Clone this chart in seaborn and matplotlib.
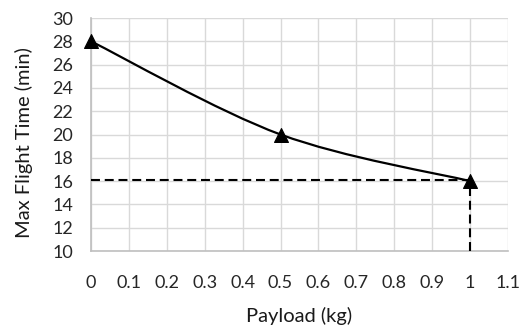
import matplotlib
matplotlib.use("Agg")
import matplotlib.pyplot as plt
from matplotlib.path import Path
from matplotlib.patches import PathPatch
import seaborn as sns
import pandas as pd

payload_kg = [0.0, 0.5, 1.0]
flight_time_min = [28, 20, 16]
ref_time = 16.1
x_ticks = [0, 0.1, 0.2, 0.3, 0.4, 0.5, 0.6, 0.7, 0.8, 0.9, 1.0, 1.1]
x_tick_labels = ["0", "0.1", "0.2", "0.3", "0.4", "0.5", "0.6", "0.7", "0.8", "0.9", "1", "1.1"]
y_ticks = list(range(10, 31, 2))

sns.set_theme(style="white")
plt.rcParams["font.family"] = ["Lato", "DejaVu Sans"]

df = pd.DataFrame({"payload": payload_kg, "time": flight_time_min})

fig = plt.figure(figsize=(5.21, 3.25), dpi=100)
ax = fig.add_axes([91 / 521, 1 - 251 / 325, (508 - 91) / 521, (251 - 18) / 325])

# smoothed curve through the points (Catmull-Rom style cubic Bezier segments)
pts = list(zip(df["payload"], df["time"]))
verts = [pts[0]]
codes = [Path.MOVETO]
n = len(pts)
for i in range(n - 1):
    p_prev = pts[max(i - 1, 0)]
    p0, p1 = pts[i], pts[i + 1]
    p_next = pts[min(i + 2, n - 1)]
    c1 = (p0[0] + (p1[0] - p_prev[0]) / 6, p0[1] + (p1[1] - p_prev[1]) / 6)
    c2 = (p1[0] - (p_next[0] - p0[0]) / 6, p1[1] - (p_next[1] - p0[1]) / 6)
    verts += [c1, c2, p1]
    codes += [Path.CURVE4] * 3
ax.add_patch(PathPatch(Path(verts, codes), facecolor="none", edgecolor="black", lw=1.6, zorder=3))

sns.scatterplot(data=df, x="payload", y="time", marker="^", s=100, color="black",
                edgecolor="black", ax=ax, zorder=4, legend=False, clip_on=False)

# reference lines at the 1 kg payload
dash = (0, (4.3, 2.3))
ax.plot([0, payload_kg[-1]], [ref_time, ref_time], color="black", lw=1.5, ls=dash, zorder=3)
ax.plot([payload_kg[-1], payload_kg[-1]], [10, flight_time_min[-1]], color="black", lw=1.5,
        ls=dash, zorder=3)

ax.set_xlim(0, 1.1)
ax.set_ylim(10, 30)
ax.set_xticks(x_ticks)
ax.set_xticklabels(x_tick_labels)
ax.set_yticks(y_ticks)
ax.grid(True, color="#d9d9d9", lw=1.0)
ax.set_axisbelow(True)
for side in ["top", "right"]:
    ax.spines[side].set_visible(False)
for side in ["left", "bottom"]:
    ax.spines[side].set_color("#bfbfbf")
    ax.spines[side].set_linewidth(1.2)
ax.tick_params(axis="both", length=0, labelsize=13, labelcolor="#262626")
ax.tick_params(axis="y", pad=13)
ax.tick_params(axis="x", pad=17)
ax.set_xlabel("Payload (kg)", fontsize=14.5, labelpad=12, color="#1a1a1a")
ax.set_ylabel("Max Flight Time (min)", fontsize=14.5, color="#1a1a1a")
ax.yaxis.set_label_coords(-58 / 417, 0.4635)

fig.savefig("out.png", dpi=100)
